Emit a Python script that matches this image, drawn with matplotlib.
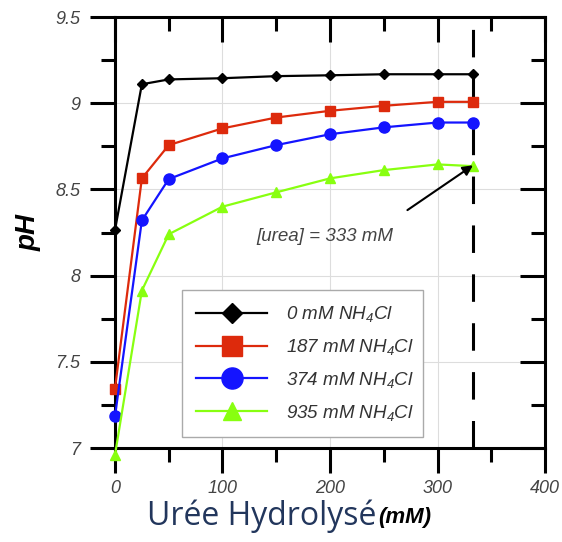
import matplotlib
matplotlib.use("Agg")
import matplotlib.pyplot as plt
from matplotlib.ticker import MultipleLocator

plt.rcParams['font.family'] = ['Liberation Sans', 'DejaVu Sans']
plt.rcParams['mathtext.fontset'] = 'custom'
plt.rcParams['mathtext.rm'] = 'Liberation Sans:italic'
plt.rcParams['mathtext.it'] = 'Liberation Sans:italic'

# urea hydrolysed (mM)
uree = [0, 25, 50, 100, 150, 200, 250, 300, 333]

ph_0 = [8.265, 9.11, 9.138, 9.145, 9.157, 9.162, 9.168, 9.168, 9.168]
ph_187 = [7.345, 8.564, 8.757, 8.854, 8.917, 8.956, 8.985, 9.008, 9.008]
ph_374 = [7.184, 8.32, 8.56, 8.68, 8.757, 8.82, 8.86, 8.888, 8.888]
ph_935 = [6.96, 7.913, 8.24, 8.40, 8.483, 8.564, 8.612, 8.645, 8.635]

labels = ["0 mM NH$_4$Cl", "187 mM NH$_4$Cl", "374 mM NH$_4$Cl", "935 mM NH$_4$Cl"]

xticks = [0, 100, 200, 300, 400]
yticks = [7, 7.5, 8, 8.5, 9, 9.5]
yticklabels = ["7", "7.5", "8", "8.5", "9", "9.5"]

rect = [0.2046, 0.1734, 0.7652, 0.7952]
fig = plt.figure(figsize=(5.62, 5.42), dpi=100)
ax = fig.add_axes(rect)

ax.plot(uree, ph_0, color="black", marker="D", ms=5.5, lw=1.6, label=labels[0], clip_on=False, zorder=5)
ax.plot(uree, ph_187, color="#dd2a0c", marker="s", ms=7.5, lw=1.6, label=labels[1], clip_on=False, zorder=4)
ax.plot(uree, ph_374, color="#1414ff", marker="o", ms=8, lw=1.6, label=labels[2], clip_on=False, zorder=4)
ax.plot(uree, ph_935, color="#88ff10", marker="^", ms=7, lw=1.6, label=labels[3], clip_on=False, zorder=4)

# end of hydrolysis
ax.axvline(333, color="black", lw=2.2, dashes=(9, 7), zorder=3)
ax.annotate("", xy=(333, 8.64), xytext=(272, 8.38),
            arrowprops=dict(arrowstyle="-|>", color="black", lw=1.5, mutation_scale=15,
                            shrinkA=0, shrinkB=0), zorder=6)
ax.text(195, 8.225, "[urea] = 333 mM", ha="center", va="center",
        fontsize=13.5, style="italic", color="#444444")

ax.set_xlim(0, 400)
ax.set_ylim(7, 9.5)
ax.set_xticks(xticks)
ax.set_yticks(yticks)
ax.set_yticklabels(yticklabels)
ax.xaxis.set_minor_locator(MultipleLocator(50))
ax.yaxis.set_minor_locator(MultipleLocator(0.25))
ax.grid(True, which="major", color="#dddddd", lw=0.8)
ax.set_axisbelow(True)

for s in ax.spines.values():
    s.set_linewidth(2.2)

ax.tick_params(which="major", direction="out", length=18, width=2.2,
               labelsize=13, labelcolor="#444444")
ax.tick_params(which="minor", direction="out", length=10, width=2.2)
ax.tick_params(axis="x", which="major", pad=5)
ax.tick_params(axis="y", which="major", pad=7)
for lab in ax.get_xticklabels() + ax.get_yticklabels():
    lab.set_style("italic")

# mirrored ticks pointing inward on top and right
ax2 = fig.add_axes(rect, frameon=False)
ax2.patch.set_visible(False)
ax2.set_xlim(0, 400)
ax2.set_ylim(7, 9.5)
ax2.set_xticks(xticks)
ax2.set_yticks(yticks)
ax2.xaxis.set_minor_locator(MultipleLocator(50))
ax2.yaxis.set_minor_locator(MultipleLocator(0.25))
ax2.tick_params(which="both", direction="in", width=2.2, top=True, right=True,
                bottom=False, left=False, labelbottom=False, labelleft=False)
ax2.tick_params(which="major", length=18)
ax2.tick_params(which="minor", length=10)

ax.set_ylabel("pH", fontsize=20, fontweight="bold", style="italic", labelpad=10)

leg = ax.legend(loc="lower left", bbox_to_anchor=(0.156, 0.026, 0.56, 0.343), mode="expand",
                borderaxespad=0, fontsize=13.5, markerscale=1.9, handlelength=3.8,
                handletextpad=1.0, labelspacing=0.68,
                fancybox=False, edgecolor="#aaaaaa", framealpha=1, borderpad=0.75)
leg.get_frame().set_linewidth(1.0)
for t in leg.get_texts():
    t.set_style("italic")
    t.set_color("#333333")

# x axis title in two fonts
t1 = fig.text(147 / 562, 1 - 525 / 542, "Urée Hydrolysé", fontsize=23,
              family=["Open Sans", "DejaVu Sans"], color="#22365c", va="baseline")
fig.canvas.draw()
bb = t1.get_window_extent(fig.canvas.get_renderer())
fig.text(bb.x1 / fig.bbox.width + 0.004, 1 - 523 / 542, "(mM)", fontsize=16,
         fontweight="bold", style="italic", color="black", va="baseline")

fig.savefig("out.png", dpi=100)
